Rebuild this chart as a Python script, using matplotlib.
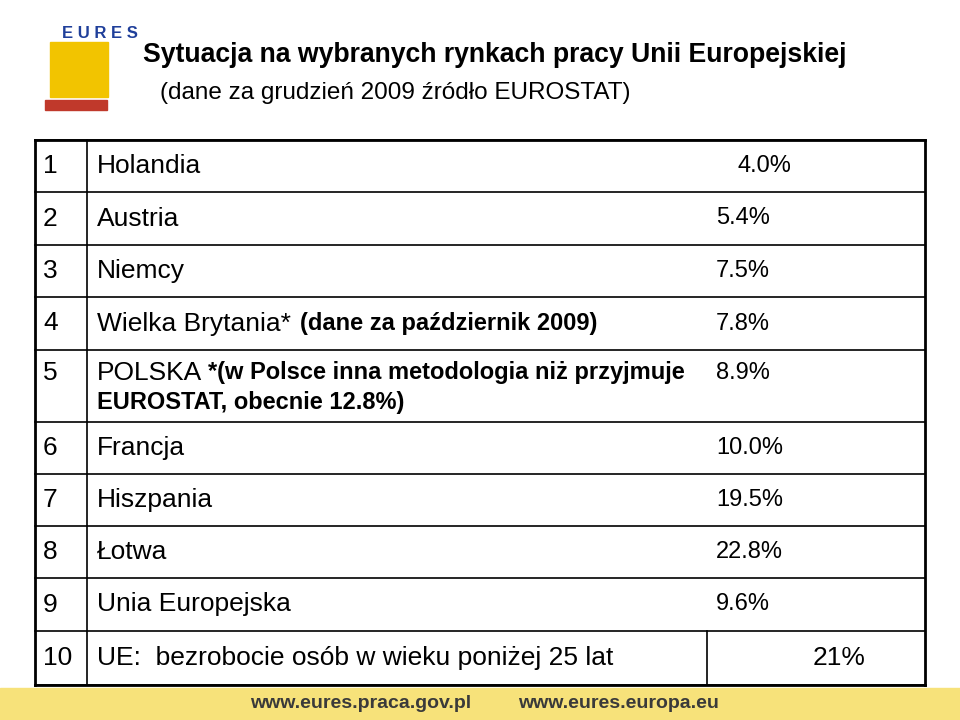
import matplotlib.pyplot as plt
from matplotlib.patches import Rectangle

plt.rcParams['font.family'] = 'Liberation Sans'

# table data
numbers = ['1', '2', '3', '4', '5', '6', '7', '8', '9', '10']
countries = ['Holandia', 'Austria', 'Niemcy', 'Wielka Brytania*', 'POLSKA', 'Francja',
             'Hiszpania', 'Łotwa', 'Unia Europejska', 'UE:  bezrobocie osób w wieku poniżej 25 lat']
notes = ['', '', '', '(dane za październik 2009)',
         '*(w Polsce inna metodologia niż przyjmuje\nEUROSTAT, obecnie 12.8%)', '', '', '', '', '']
values = ['4.0%', '5.4%', '7.5%', '7.8%', '8.9%', '10.0%', '19.5%', '22.8%', '9.6%', '21%']

row_edges = [140, 192, 245, 297, 350, 422, 474, 526, 578, 631, 685]
x0, x1, x2, x3 = 35, 87, 707, 925

fig = plt.figure(figsize=(9.6, 7.2), dpi=100)
ax = fig.add_axes([0, 0, 1, 1])
ax.set_xlim(0, 960)
ax.set_ylim(720, 0)
ax.axis('off')

# footer band
ax.add_patch(Rectangle((0, 688), 960, 32, color='#f7e27a', zorder=0))
ax.text(250, 704, 'www.eures.praca.gov.pl', fontsize=14, fontweight='bold', color='#3a3a3a', va='center')
ax.text(518, 704, 'www.eures.europa.eu', fontsize=14, fontweight='bold', color='#3a3a3a', va='center')

# logo stand-in
ax.text(62, 33, 'E U R E S', fontsize=12, fontweight='bold', color='#1f3f9a', va='center')
ax.add_patch(Rectangle((50, 42), 58, 55, color='#f2c400', zorder=1))
ax.add_patch(Rectangle((45, 100), 62, 10, color='#c0392b', zorder=1))

# titles
ax.text(143, 55, 'Sytuacja na wybranych rynkach pracy Unii Europejskiej',
        fontsize=19.2, fontweight='bold', va='center')
ax.text(160, 93, '(dane za grudzień 2009 źródło EUROSTAT)', fontsize=17.5, va='center')

# grid lines
for y in row_edges:
    ax.plot([x0, x3], [y, y], color='black', lw=1.2)
ax.plot([x0, x0], [row_edges[0], row_edges[-1]], color='black', lw=2)
ax.plot([x3, x3], [row_edges[0], row_edges[-1]], color='black', lw=2)
ax.plot([x0, x3], [row_edges[0], row_edges[0]], color='black', lw=2)
ax.plot([x0, x3], [row_edges[-1], row_edges[-1]], color='black', lw=2)
ax.plot([x1, x1], [row_edges[0], row_edges[-1]], color='black', lw=1.2)
ax.plot([x2, x2], [row_edges[-2], row_edges[-1]], color='black', lw=1.2)

fs = 19
for i in range(len(numbers)):
    top, bot = row_edges[i], row_edges[i + 1]
    yc = (top + bot) / 2
    if i == 4:
        yc = top + 23
    ax.text(43, yc, numbers[i], fontsize=fs, va='center')
    ax.text(97, yc, countries[i], fontsize=fs, va='center')
    if i == 3:
        ax.text(300, yc, notes[i], fontsize=17, fontweight='bold', va='center')
    elif i == 4:
        ax.text(208, yc, '*(w Polsce inna metodologia niż przyjmuje',
                fontsize=17, fontweight='bold', va='center')
        ax.text(97, yc + 30, 'EUROSTAT, obecnie 12.8%)',
                fontsize=17, fontweight='bold', va='center')
    if i == 9:
        ax.text(865, yc, values[i], fontsize=fs, va='center', ha='right')
    elif i == 0:
        ax.text(738, yc, values[i], fontsize=17, va='center')
    else:
        ax.text(716, yc, values[i], fontsize=17, va='center')

fig.savefig('out.png', dpi=100)
